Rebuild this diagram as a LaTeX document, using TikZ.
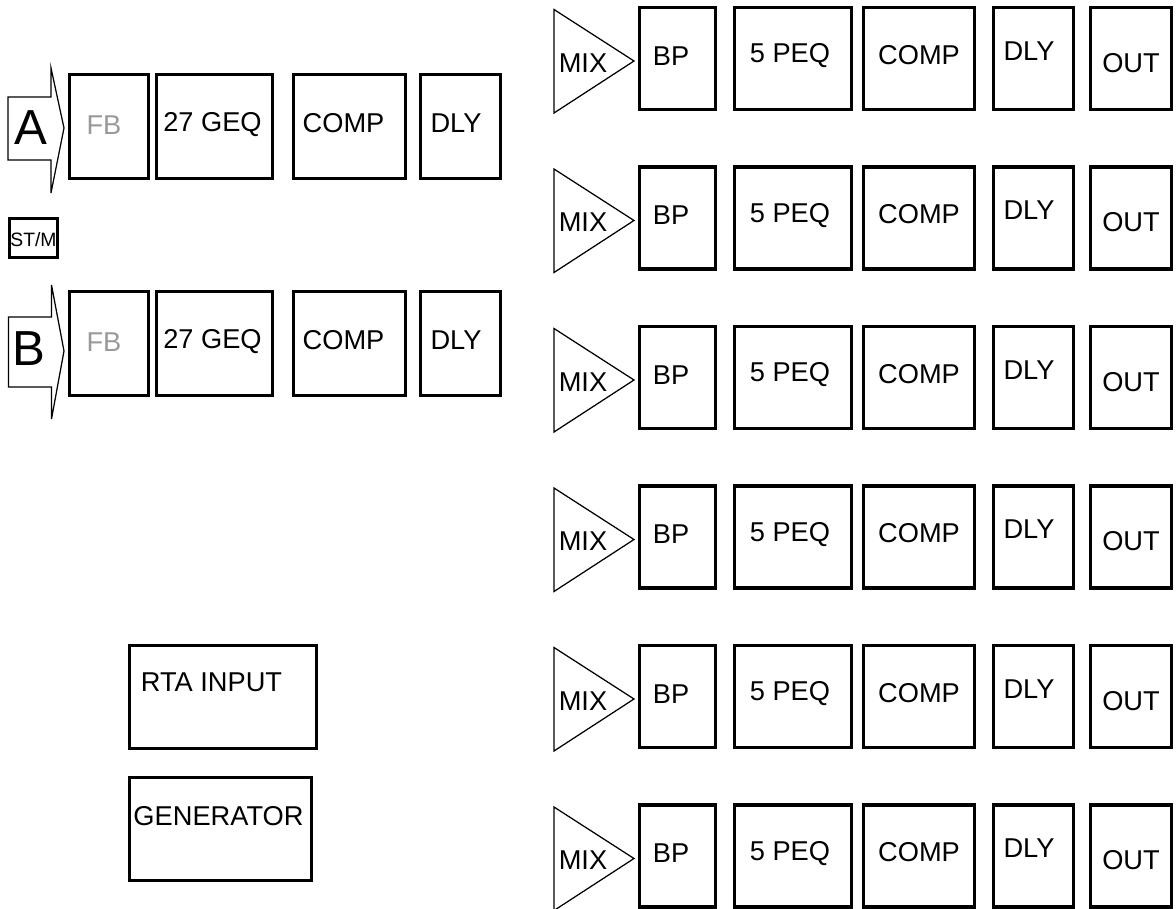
\documentclass[tikz,border=0pt]{standalone}
\usepackage{fontspec}
\setmainfont{Liberation Sans}
\usetikzlibrary{positioning}
\newcommand{\nudge}[3]{\raisebox{#2}[\height][\depth]{\hspace*{#1}#3\hspace*{-#1}}}

\begin{document}
\begin{tikzpicture}[x=0.2mm, y=-0.2mm,
	blk/.style={draw, line width=0.66mm, inner sep=0pt, font=\fontsize{15.5}{15.5}\selectfont},
	fine/.style={line width=0.25mm},
	lbl/.style={inner sep=0pt, font=\fontsize{15.5}{15.5}\selectfont},
	big/.style={inner sep=0pt, font=\fontsize{28}{28}\selectfont},
	fbbox/.style={blk, minimum width=15.8mm, minimum height=20.8mm, text=black!40},
	geqbox/.style={blk, minimum width=23.2mm, minimum height=20.8mm},
	lcompbox/.style={blk, minimum width=22.4mm, minimum height=20.8mm},
	ldlybox/.style={blk, minimum width=16mm, minimum height=20.8mm},
	bpbox/.style={blk, minimum width=15.2mm, minimum height=20.4mm},
	peqbox/.style={blk, minimum width=23.4mm, minimum height=20.4mm},
	compbox/.style={blk, minimum width=22.2mm, minimum height=20.4mm},
	dlybox/.style={blk, minimum width=16mm, minimum height=20.4mm},
	outbox/.style={blk, minimum width=16.2mm, minimum height=20.4mm}]
	\useasboundingbox (0,0) rectangle (1176,909);

	% input A
	\draw[fine] (8,97) -- (51,97) -- (51,68) -- (64,128) -- (51,193) -- (51,160) -- (8,160) -- cycle;
	\node[big] (ina) at (31,128) {A};
	\node[fbbox] (fba) at (109,126.5) {\nudge{-1mm}{0.3mm}{FB}};
	\node[geqbox] (geqa) at (214.5,126.5) {\nudge{-0.4mm}{0.4mm}{27 GEQ}};
	\node[lcompbox] (compa) at (349.5,126.5) {\nudge{-1.2mm}{0.6mm}{COMP}};
	\node[ldlybox] (dlya) at (460.5,126.5) {\nudge{-0.9mm}{0.6mm}{DLY}};

	\node[blk, minimum width=9.6mm, minimum height=7.8mm, font=\fontsize{11}{11}\selectfont] (stm) at (33.5,238) {\nudge{0mm}{-0.4mm}{ST/M}};

	% input B
	\draw[fine] (8.5,317) -- (51.5,317) -- (51.5,285) -- (64,351) -- (51.5,419) -- (51.5,387) -- (8.5,387) -- cycle;
	\node[big] (inb) at (29,349) {B};
	\node[fbbox] (fbb) at (109,343.5) {\nudge{-1mm}{0.3mm}{FB}};
	\node[geqbox] (geqb) at (214.5,343.5) {\nudge{-0.4mm}{0.4mm}{27 GEQ}};
	\node[lcompbox] (compb) at (349.5,343.5) {\nudge{-1.2mm}{0.6mm}{COMP}};
	\node[ldlybox] (dlyb) at (460.5,343.5) {\nudge{-0.9mm}{0.6mm}{DLY}};

	% analyser
	\node[blk, minimum width=37.4mm, minimum height=20.6mm] (rta) at (223,697) {\nudge{-2.3mm}{3mm}{RTA INPUT}};
	\node[blk, minimum width=36.4mm, minimum height=20.6mm] (gen) at (220.5,829) {\nudge{-0.4mm}{2.6mm}{GENERATOR}};

	% outputs
	\draw[fine] (554,9.5) -- (634,61) -- (554,113) -- cycle;
	\node[lbl] (mix1) at (583,63) {MIX};
	\node[bpbox] (bp1) at (677.5,58.5) {\nudge{-1.3mm}{0.5mm}{BP}};
	\node[peqbox] (peq1) at (793,58.5) {\nudge{-0.6mm}{0.5mm}{5 PEQ}};
	\node[compbox] (comp1) at (919,58.5) {\nudge{0mm}{0.7mm}{COMP}};
	\node[dlybox] (dly1) at (1033.5,58.5) {\nudge{-0.9mm}{1.5mm}{DLY}};
	\node[outbox] (out1) at (1131,58.5) {\nudge{0mm}{-0.9mm}{OUT}};

	\draw[fine] (554,169) -- (634,220.5) -- (554,272.5) -- cycle;
	\node[lbl] (mix2) at (583,222.5) {MIX};
	\node[bpbox] (bp2) at (677.5,218) {\nudge{-1.3mm}{0.5mm}{BP}};
	\node[peqbox] (peq2) at (793,218) {\nudge{-0.6mm}{0.5mm}{5 PEQ}};
	\node[compbox] (comp2) at (919,218) {\nudge{0mm}{0.7mm}{COMP}};
	\node[dlybox] (dly2) at (1033.5,218) {\nudge{-0.9mm}{1.5mm}{DLY}};
	\node[outbox] (out2) at (1131,218) {\nudge{0mm}{-0.9mm}{OUT}};

	\draw[fine] (554,328.5) -- (634,380) -- (554,432) -- cycle;
	\node[lbl] (mix3) at (583,382) {MIX};
	\node[bpbox] (bp3) at (677.5,377.5) {\nudge{-1.3mm}{0.5mm}{BP}};
	\node[peqbox] (peq3) at (793,377.5) {\nudge{-0.6mm}{0.5mm}{5 PEQ}};
	\node[compbox] (comp3) at (919,377.5) {\nudge{0mm}{0.7mm}{COMP}};
	\node[dlybox] (dly3) at (1033.5,377.5) {\nudge{-0.9mm}{1.5mm}{DLY}};
	\node[outbox] (out3) at (1131,377.5) {\nudge{0mm}{-0.9mm}{OUT}};

	\draw[fine] (554,488) -- (634,539.5) -- (554,591.5) -- cycle;
	\node[lbl] (mix4) at (583,541.5) {MIX};
	\node[bpbox] (bp4) at (677.5,537) {\nudge{-1.3mm}{0.5mm}{BP}};
	\node[peqbox] (peq4) at (793,537) {\nudge{-0.6mm}{0.5mm}{5 PEQ}};
	\node[compbox] (comp4) at (919,537) {\nudge{0mm}{0.7mm}{COMP}};
	\node[dlybox] (dly4) at (1033.5,537) {\nudge{-0.9mm}{1.5mm}{DLY}};
	\node[outbox] (out4) at (1131,537) {\nudge{0mm}{-0.9mm}{OUT}};

	\draw[fine] (554,647.5) -- (634,699) -- (554,751) -- cycle;
	\node[lbl] (mix5) at (583,701) {MIX};
	\node[bpbox] (bp5) at (677.5,696.5) {\nudge{-1.3mm}{0.5mm}{BP}};
	\node[peqbox] (peq5) at (793,696.5) {\nudge{-0.6mm}{0.5mm}{5 PEQ}};
	\node[compbox] (comp5) at (919,696.5) {\nudge{0mm}{0.7mm}{COMP}};
	\node[dlybox] (dly5) at (1033.5,696.5) {\nudge{-0.9mm}{1.5mm}{DLY}};
	\node[outbox] (out5) at (1131,696.5) {\nudge{0mm}{-0.9mm}{OUT}};

	\draw[fine] (554,807) -- (634,858.5) -- (554,910.5) -- cycle;
	\node[lbl] (mix6) at (583,860.5) {MIX};
	\node[bpbox] (bp6) at (677.5,856) {\nudge{-1.3mm}{0.5mm}{BP}};
	\node[peqbox] (peq6) at (793,856) {\nudge{-0.6mm}{0.5mm}{5 PEQ}};
	\node[compbox] (comp6) at (919,856) {\nudge{0mm}{0.7mm}{COMP}};
	\node[dlybox] (dly6) at (1033.5,856) {\nudge{-0.9mm}{1.5mm}{DLY}};
	\node[outbox] (out6) at (1131,856) {\nudge{0mm}{-0.9mm}{OUT}};
\end{tikzpicture}
\end{document}
